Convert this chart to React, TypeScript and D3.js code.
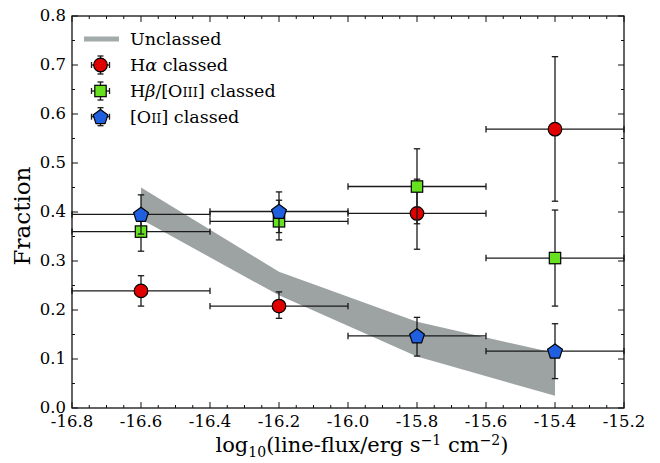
import React from "react";
import * as d3 from "d3";

const binEdges = [-16.8, -16.4, -16.0, -15.6, -15.2];
const binCenters = [-16.6, -16.2, -15.8, -15.4];
const unclassedUpper = [0.45, 0.278, 0.176, 0.112];
const unclassedLower = [0.385, 0.23, 0.105, 0.025];
const haValues = [0.239, 0.208, 0.397, 0.569];
const haErrUp = [0.031, 0.029, 0.07, 0.148];
const haErrDown = [0.031, 0.025, 0.073, 0.147];
const hbValues = [0.36, 0.381, 0.452, 0.306];
const hbErrUp = [0.04, 0.043, 0.077, 0.098];
const hbErrDown = [0.04, 0.038, 0.076, 0.098];
const o2Values = [0.395, 0.401, 0.147, 0.116];
const o2ErrUp = [0.04, 0.04, 0.038, 0.056];
const o2ErrDown = [0.04, 0.043, 0.041, 0.056];
const xTickValues = [-16.8, -16.6, -16.4, -16.2, -16.0, -15.8, -15.6, -15.4, -15.2];
const yTickValues = [0, 0.1, 0.2, 0.3, 0.4, 0.5, 0.6, 0.7, 0.8];

const W = 660, H = 463;
const L = 72, R = 624, T = 16, B = 408;
const FONT = "'DejaVu Serif', serif";
const RED = "#e00000", GREEN = "#66e01f", BLUE = "#1f5fe0", BAND = "#9da3a3";
const EB = "#1a1a1a";

const x = d3.scaleLinear().domain([-16.8, -15.2]).range([L, R]);
const y = d3.scaleLinear().domain([0, 0.8]).range([B, T]);

type Shape = "circle" | "square" | "pentagon";

function Marker({ cx, cy, shape, fill }: { cx: number; cy: number; shape: Shape; fill: string }) {
  if (shape === "circle") return <circle cx={cx} cy={cy} r={6.8} fill={fill} stroke="#000" strokeWidth={1.2} />;
  if (shape === "square") return <rect x={cx - 5.7} y={cy - 5.7} width={11.4} height={11.4} fill={fill} stroke="#000" strokeWidth={1.2} />;
  const r = 7.8;
  const pts = d3.range(5).map((i) => {
    const a = -Math.PI / 2 + (i * 2 * Math.PI) / 5;
    return `${cx + r * Math.cos(a)},${cy + 0.6 + r * Math.sin(a)}`;
  }).join(" ");
  return <polygon points={pts} fill={fill} stroke="#000" strokeWidth={1.2} strokeLinejoin="round" />;
}

function Series({ values, up, down, shape, fill }: { values: number[]; up: number[]; down: number[]; shape: Shape; fill: string }) {
  const cap = 3.2;
  return (
    <g>
      {values.map((v, i) => {
        const cx = x(binCenters[i]);
        const cy = y(v);
        const x0 = x(binEdges[i]);
        const x1 = x(binEdges[i + 1]);
        const yt = y(v + up[i]);
        const yb = y(v - down[i]);
        return (
          <g key={i} stroke={EB} strokeWidth={1.3}>
            <line x1={x0} x2={x1} y1={cy} y2={cy} />
            <line x1={x0} x2={x0} y1={cy - cap} y2={cy + cap} />
            <line x1={x1} x2={x1} y1={cy - cap} y2={cy + cap} />
            <line x1={cx} x2={cx} y1={yt} y2={yb} />
            <line x1={cx - cap} x2={cx + cap} y1={yt} y2={yt} />
            <line x1={cx - cap} x2={cx + cap} y1={yb} y2={yb} />
          </g>
        );
      })}
      {values.map((v, i) => (
        <Marker key={"m" + i} cx={x(binCenters[i])} cy={y(v)} shape={shape} fill={fill} />
      ))}
    </g>
  );
}

function LegendMarker({ cx, cy, shape, fill }: { cx: number; cy: number; shape: Shape; fill: string }) {
  const e = 9, cap = 3;
  return (
    <g>
      <g stroke={EB} strokeWidth={1.3}>
        <line x1={cx} x2={cx} y1={cy - e} y2={cy + e} />
        <line x1={cx - cap} x2={cx + cap} y1={cy - e} y2={cy - e} />
        <line x1={cx - cap} x2={cx + cap} y1={cy + e} y2={cy + e} />
        <line x1={cx - e} x2={cx + e} y1={cy} y2={cy} />
        <line x1={cx - e} x2={cx - e} y1={cy - cap} y2={cy + cap} />
        <line x1={cx + e} x2={cx + e} y1={cy - cap} y2={cy + cap} />
      </g>
      <Marker cx={cx} cy={cy} shape={shape} fill={fill} />
    </g>
  );
}

export default function App() {
  const band = d3
    .area<number>()
    .x((_, i) => x(binCenters[i]))
    .y0((_, i) => y(unclassedLower[i]))
    .y1((d) => y(d))(unclassedUpper);

  const xMinor = d3.range(0, 33).map((i) => -16.8 + i * 0.05);
  const yMinor = d3.range(0, 17).map((i) => i * 0.05);

  const legendX = 100.5;
  const legendTextX = 130;
  const rows = [39, 65, 91, 116.7];

  return (
    <svg width={W} height={H} style={{ position: "absolute", left: 0, top: 0, background: "#fff" }} fontFamily={FONT}>
      <rect x={0} y={0} width={W} height={H} fill="#fff" />
      <path d={band || ""} fill={BAND} stroke="none" />

      <Series values={haValues} up={haErrUp} down={haErrDown} shape="circle" fill={RED} />
      <Series values={hbValues} up={hbErrUp} down={hbErrDown} shape="square" fill={GREEN} />
      <Series values={o2Values} up={o2ErrUp} down={o2ErrDown} shape="pentagon" fill={BLUE} />

      {/* ticks */}
      <g stroke="#111" strokeWidth={1}>
        {xMinor.map((v, i) => {
          const major = i % 4 === 0;
          const len = major ? 6 : 3;
          return (
            <g key={"xm" + i}>
              <line x1={x(v)} x2={x(v)} y1={B} y2={B - len} />
              <line x1={x(v)} x2={x(v)} y1={T} y2={T + len} />
            </g>
          );
        })}
        {yMinor.map((v, i) => {
          const major = i % 2 === 0;
          const len = major ? 6 : 3;
          return (
            <g key={"ym" + i}>
              <line x1={L} x2={L + len} y1={y(v)} y2={y(v)} />
              <line x1={R} x2={R - len} y1={y(v)} y2={y(v)} />
            </g>
          );
        })}
      </g>
      <rect x={L} y={T} width={R - L} height={B - T} fill="none" stroke="#111" strokeWidth={1.3} />

      {/* tick labels */}
      <g fontSize={16.5} fill="#000">
        {xTickValues.map((v) => (
          <text key={"xl" + v} x={x(v)} y={B + 18.5} textAnchor="middle">
            {v.toFixed(1)}
          </text>
        ))}
        {yTickValues.map((v) => (
          <text key={"yl" + v} x={L - 6} y={y(v) + 5} textAnchor="end">
            {v.toFixed(1)}
          </text>
        ))}
      </g>

      {/* axis titles */}
      <text x={362} y={452} textAnchor="middle" fontSize={21} fill="#000">
        log<tspan fontSize={14} dy={5}>10</tspan>
        <tspan dy={-5}>(line-flux/erg s</tspan>
        <tspan fontSize={14} dy={-7}>−1</tspan>
        <tspan dy={7}> cm</tspan>
        <tspan fontSize={14} dy={-7}>−2</tspan>
        <tspan dy={7}>)</tspan>
      </text>
      <text transform={`translate(30,${216}) rotate(-90)`} textAnchor="middle" fontSize={23} fill="#000">
        Fraction
      </text>

      {/* legend */}
      <line x1={84} x2={119} y1={rows[0]} y2={rows[0]} stroke="#a3aaaa" strokeWidth={5} />
      <LegendMarker cx={legendX} cy={rows[1]} shape="circle" fill={RED} />
      <LegendMarker cx={legendX} cy={rows[2]} shape="square" fill={GREEN} />
      <LegendMarker cx={legendX} cy={rows[3]} shape="pentagon" fill={BLUE} />
      <g fontSize={17.5} fill="#000">
        <text x={legendTextX} y={rows[0] + 6}>Unclassed</text>
        <text x={legendTextX} y={rows[1] + 6}>
          H<tspan fontStyle="italic">α</tspan> classed
        </text>
        <text x={legendTextX} y={rows[2] + 6}>
          H<tspan fontStyle="italic">β</tspan>/[O<tspan fontSize={13}>III</tspan>] classed
        </text>
        <text x={legendTextX} y={rows[3] + 6}>
          [O<tspan fontSize={13}>II</tspan>] classed
        </text>
      </g>
    </svg>
  );
}
